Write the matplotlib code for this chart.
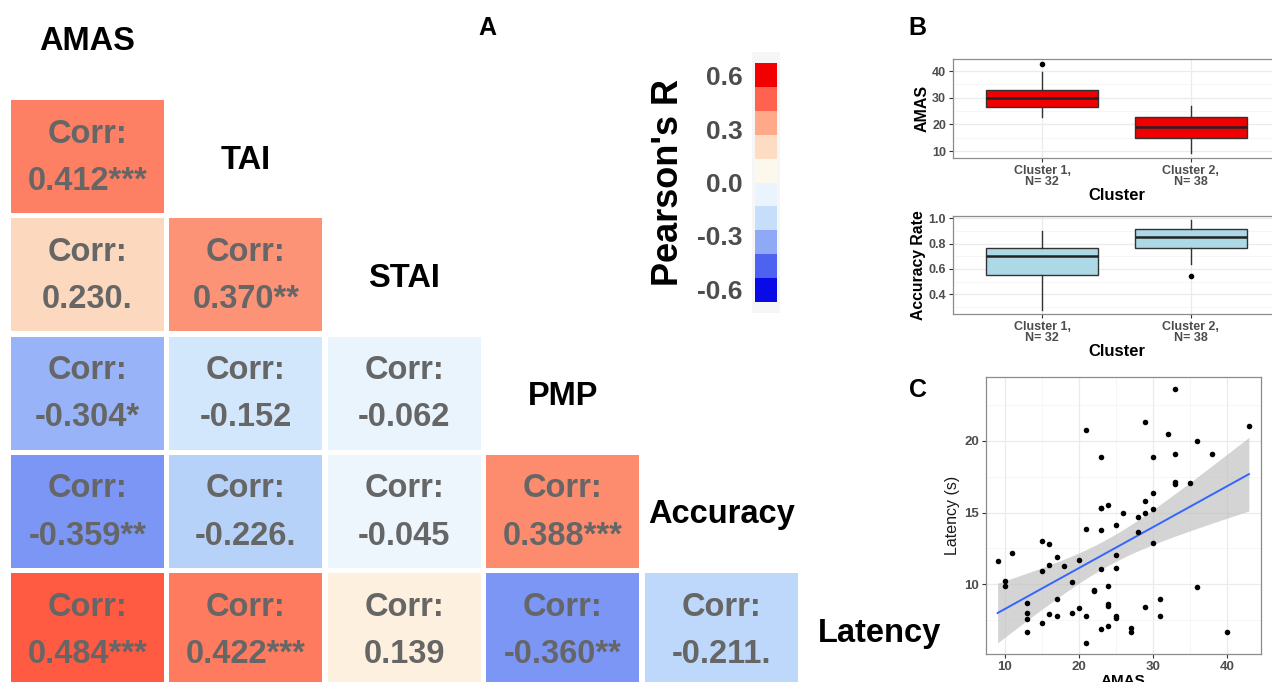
import numpy as np
import matplotlib
matplotlib.use("Agg")
import matplotlib.pyplot as plt
from matplotlib.colors import LinearSegmentedColormap, ListedColormap, BoundaryNorm
from matplotlib.patches import Rectangle
from matplotlib.cm import ScalarMappable
from matplotlib.ticker import MultipleLocator

plt.rcParams["font.family"] = ["Liberation Sans", "DejaVu Sans"]

# ---- panel A: correlation matrix ----
variables = ["AMAS", "TAI", "STAI", "PMP", "Accuracy", "Latency"]
# row i holds correlations of variables[i + 1] with variables[:i + 1]
corr_values = [
    [0.412],
    [0.230, 0.370],
    [-0.304, -0.152, -0.062],
    [-0.359, -0.226, -0.045, 0.388],
    [0.484, 0.422, 0.139, -0.360, -0.211],
]
corr_stars = [
    ["***"],
    [".", "**"],
    ["*", "", ""],
    ["**", ".", "", "***"],
    ["***", "***", "", "**", "."],
]
legend_ticks = [-0.6, -0.3, 0.0, 0.3, 0.6]
legend_bins = np.linspace(-0.67, 0.67, 11)

# ---- panel B: boxplots by cluster ----
clusters = ["Cluster 1,\nN= 32", "Cluster 2,\nN= 38"]
amas_q1 = [26.6, 15.0]
amas_med = [30.0, 19.1]
amas_q3 = [32.9, 22.7]
amas_lo = [22.9, 9.1]
amas_hi = [39.7, 26.9]
amas_out = [[42.8], []]

acc_q1 = [0.555, 0.765]
acc_med = [0.70, 0.855]
acc_q3 = [0.767, 0.912]
acc_lo = [0.277, 0.637]
acc_hi = [0.897, 0.987]
acc_out = [[], [0.545]]

# ---- panel C: AMAS vs latency ----
amas_scores = [9, 10, 10, 11, 13, 13, 13, 13, 15, 15, 15, 16, 16, 16, 17, 17, 17,
               18, 19, 19, 20, 20, 21, 21, 21, 21, 22, 22, 23, 23, 23, 23, 23, 23,
               24, 24, 24, 24, 24, 25, 25, 25, 25, 25, 26, 27, 27, 28, 28, 29, 29,
               29, 29, 30, 30, 30, 30, 31, 31, 32, 33, 33, 33, 33, 35, 36, 36, 38,
               40, 43]
latency_s = [11.65, 10.25, 9.9, 12.19, 8.72, 7.98, 7.58, 6.7, 13.0, 10.93, 7.28,
             12.81, 11.33, 7.93, 11.88, 8.95, 7.79, 11.28, 10.19, 8.02, 11.7, 8.35,
             20.79, 13.84, 7.79, 5.88, 9.53, 9.6, 18.86, 15.35, 15.3, 13.77, 11.07,
             6.91, 15.53, 9.88, 8.6, 8.49, 7.07, 14.16, 12.07, 11.16, 7.81, 7.65,
             14.98, 6.95, 6.65, 14.72, 13.63, 21.35, 15.79, 14.95, 8.4, 18.86, 16.37,
             15.23, 12.86, 9.0, 7.79, 20.47, 23.6, 19.07, 17.14, 16.98, 17.05, 19.98,
             9.81, 19.07, 6.67, 21.05]

W, H = 1272, 682
fig = plt.figure(figsize=(W / 100, H / 100), dpi=100)


def fig_rect(left, top, right, bottom):
    return [left / W, 1 - bottom / H, (right - left) / W, (bottom - top) / H]


# ---------------- heatmap ----------------
cell_cmap = LinearSegmentedColormap.from_list("corr", [
    (0.00, "#0000FF"), ((0.70 - 0.36) / 1.4, "#7B96F4"), ((0.70 - 0.30) / 1.4, "#9AB5F8"),
    ((0.70 - 0.20) / 1.4, "#C2DDFA"), ((0.70 - 0.10) / 1.4, "#E2F1FC"),
    ((0.70 - 0.03) / 1.4, "#F0F7FD"), ((0.70 + 0.05) / 1.4, "#FDF8F0"),
    ((0.70 + 0.14) / 1.4, "#FDF0DF"), ((0.70 + 0.23) / 1.4, "#FCDAC0"),
    ((0.70 + 0.37) / 1.4, "#FD9376"), ((0.70 + 0.42) / 1.4, "#FE7E62"),
    ((0.70 + 0.49) / 1.4, "#FF5840"), (1.00, "#FF0000"),
])
cell_norm = plt.Normalize(-0.7, 0.7)

px, py = 158.4, 118.3
ax = fig.add_axes(fig_rect(11, 100 - py, 11 + 6 * px, 100 + 5 * py))
ax.set_xlim(0, 6)
ax.set_ylim(5, -1)
ax.axis("off")
cw, ch = 153 / px, 113 / py

for i, row in enumerate(corr_values):
    for j, v in enumerate(row):
        ax.add_patch(Rectangle((j, i), cw, ch, facecolor=cell_cmap(cell_norm(v)),
                               edgecolor="none"))
        ax.text(j + cw / 2, i + ch / 2 - 0.19, "Corr:", ha="center", va="center",
                fontsize=23.5, fontweight="bold", color="#666666")
        ax.text(j + cw / 2, i + ch / 2 + 0.21, f"{v:.3f}{corr_stars[i][j]}",
                ha="center", va="center", fontsize=23.5, fontweight="bold",
                color="#666666")

for k, name in enumerate(variables):
    ax.text(k + cw / 2, k - 1 + ch / 2 + 0.03, name, ha="center", va="center",
            fontsize=23.5, fontweight="bold", color="black")

# ---------------- legend ----------------
bin_colors = ["#0A0AE6", "#4D62F0", "#8FA9F6", "#C6DEF9", "#EAF4FC",
              "#FDF8EC", "#FDDCC4", "#FFA88A", "#FF6350", "#F20000"]
fig.patches.append(Rectangle((752 / W, 1 - 313 / H), 28 / W, 261 / H,
                             transform=fig.transFigure, facecolor="#F6F6F6",
                             edgecolor="none", zorder=-1))
cax = fig.add_axes(fig_rect(755, 63.3, 777, 301.7))
cax.set_zorder(3)
sm = ScalarMappable(norm=BoundaryNorm(legend_bins, 10), cmap=ListedColormap(bin_colors))
cb = fig.colorbar(sm, cax=cax, ticks=legend_ticks)
cb.outline.set_visible(False)
cax.minorticks_off()
cax.yaxis.set_ticks_position("left")
cax.set_yticklabels([f"{t:.1f}" for t in legend_ticks])
cax.tick_params(which="both", length=0, pad=9, labelsize=19, labelcolor="#4D4D4D")
for lab in cax.get_yticklabels():
    lab.set_fontweight("bold")
fig.text(668 / W, 1 - 183 / H, "Pearson's R", rotation=90, ha="center", va="center",
         fontsize=26, fontweight="bold")

# panel letters
for letter, x, y in [("A", 487, 28), ("B", 917, 28), ("C", 918, 390)]:
    fig.text(x / W, 1 - y / H, letter, ha="center", va="center", fontsize=18,
             fontweight="bold")


def style_axes(a, size=9.5):
    a.set_facecolor("white")
    a.set_axisbelow(True)
    a.grid(which="major", color="#EBEBEB", linewidth=0.9)
    a.grid(which="minor", color="#F3F3F3", linewidth=0.5)
    for s in a.spines.values():
        s.set_color("#8C8C8C")
        s.set_linewidth(0.9)
    a.tick_params(which="major", length=3, color="#333333", labelsize=size,
                  labelcolor="#4D4D4D", pad=2)
    a.tick_params(which="minor", length=0)
    for lab in a.get_xticklabels() + a.get_yticklabels():
        lab.set_fontweight("bold")


def draw_box(a, q1, med, q3, lo, hi, out, face):
    stats = [dict(q1=q1[k], med=med[k], q3=q3[k], whislo=lo[k], whishi=hi[k],
                  fliers=out[k]) for k in range(len(q1))]
    a.bxp(stats, positions=[1, 2], widths=0.75, patch_artist=True, showcaps=False,
          boxprops=dict(facecolor=face, edgecolor="#333333", linewidth=1),
          medianprops=dict(color="#222222", linewidth=1.8),
          whiskerprops=dict(color="#333333", linewidth=1),
          flierprops=dict(marker="o", markerfacecolor="black", markeredgecolor="black",
                          markersize=3))
    a.set_xlim(0.4, 2.6)
    a.set_xticks([1, 2])
    a.set_xticklabels(clusters, linespacing=0.9)
    a.set_xlabel("Cluster", fontsize=12, fontweight="bold", labelpad=0)


# ---------------- panel B ----------------
axb1 = fig.add_axes(fig_rect(953, 59, 1280, 158))
draw_box(axb1, amas_q1, amas_med, amas_q3, amas_lo, amas_hi, amas_out, "#F00000")
axb1.set_ylim(7.4, 44.5)
axb1.yaxis.set_major_locator(MultipleLocator(10))
axb1.yaxis.set_minor_locator(MultipleLocator(5))
axb1.set_ylabel("AMAS", fontsize=11.5, fontweight="bold", labelpad=2)
style_axes(axb1, 9)

axb2 = fig.add_axes(fig_rect(953, 216, 1280, 314))
draw_box(axb2, acc_q1, acc_med, acc_q3, acc_lo, acc_hi, acc_out, "#ADD8E6")
axb2.set_ylim(0.245, 1.018)
axb2.yaxis.set_major_locator(MultipleLocator(0.2))
axb2.yaxis.set_minor_locator(MultipleLocator(0.1))
axb2.set_ylabel("Accuracy Rate", fontsize=11.3, fontweight="bold", labelpad=2)
style_axes(axb2, 9)

# ---------------- panel C ----------------
axc = fig.add_axes(fig_rect(986, 377.3, 1260.7, 654))
x = np.array(amas_scores, dtype=float)
y = np.array(latency_s, dtype=float)
slope, intercept = np.polyfit(x, y, 1)
xg = np.linspace(x.min(), x.max(), 100)
yhat = intercept + slope * xg
n = len(x)
s = np.sqrt(np.sum((y - (intercept + slope * x)) ** 2) / (n - 2))
se = s * np.sqrt(1 / n + (xg - x.mean()) ** 2 / np.sum((x - x.mean()) ** 2))
axc.fill_between(xg, yhat - 1.995 * se, yhat + 1.995 * se, color="#BEBEBE",
                 alpha=0.65, linewidth=0, zorder=2)
axc.plot(xg, yhat, color="#3366FF", linewidth=1.4, zorder=3)
axc.scatter(x, y, s=16, color="black", zorder=4, linewidths=0)
axc.set_xlim(7.43, 44.6)
axc.set_ylim(5.14, 24.44)
axc.xaxis.set_major_locator(MultipleLocator(10))
axc.xaxis.set_minor_locator(MultipleLocator(5))
axc.yaxis.set_major_locator(MultipleLocator(5))
axc.yaxis.set_minor_locator(MultipleLocator(2.5))
axc.set_ylabel("Latency (s)", fontsize=11.5, color="#1A1A1A", labelpad=3)
axc.set_xlabel("AMAS", fontsize=11, fontweight="bold", labelpad=1)
style_axes(axc, 9.5)

fig.savefig("out.png", dpi=100)
